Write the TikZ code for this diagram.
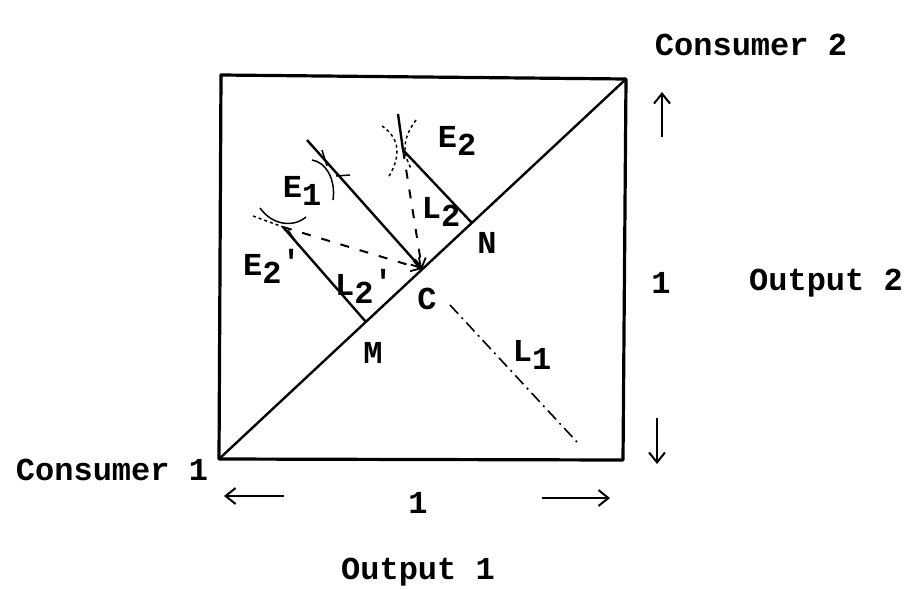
\documentclass[tikz,border=0pt]{standalone}
\usepackage{fontspec}
\setmainfont{Liberation Mono}
\usetikzlibrary{arrows.meta}
\newcommand{\sbs}[1]{\raisebox{-0.45ex}{#1}}
\newcommand{\prm}{\raisebox{0.2ex}{\textquotesingle}}
\begin{document}
\begin{tikzpicture}[x=1pt,y=-1pt,
  lbl/.style={font=\fontsize{32}{36}\selectfont\bfseries, inner sep=0pt},
  boxline/.style={line width=3.2pt, line join=round},
  solidline/.style={line width=2.4pt},
  dashline/.style={line width=2pt, dash pattern=on 9pt off 11pt},
  dashdotline/.style={line width=1.6pt, dash pattern=on 12pt off 5pt on 2pt off 5pt},
  curve/.style={line width=1.5pt},
  tip/.style={-{Straight Barb[length=9pt,width=11pt,line width=1.8pt]}},
  sidearrow/.style={line width=2pt, -{Straight Barb[length=10pt,width=16pt,line width=2pt]}}
]
\useasboundingbox (0,0) rectangle (904,589);
% square
\coordinate (BL) at (219,459);
\coordinate (BR) at (623,460);
\coordinate (TR) at (626,79);
\coordinate (TL) at (221,75);
\draw[boxline] (BL) -- (BR) -- (TR) -- (TL) -- cycle;
% points
\coordinate (C) at (422,269);
\coordinate (M) at (366,322);
\coordinate (N) at (472,223);
\coordinate (E1) at (330,170);
\coordinate (E1a) at (307,140);
\coordinate (E2) at (403,150);
\coordinate (E2a) at (398,114);
\coordinate (E2p) at (283,227);
\coordinate (L1s) at (450,305);
\coordinate (L1e) at (577,442);
% diagonal
\draw[solidline] (BL) -- (TR);
% lines
\draw[solidline, tip] (E1a) -- (C);
\draw[solidline] (E2) -- (N);
\draw[solidline] (E2p) -- (M);
\draw[solidline] (E2a) -- (E2);
\draw[dashline, tip] (E2) -- (C);
\draw[dashline, tip] (E2p) -- (C);
\draw[dashdotline] (L1s) -- (L1e);
% indifference curve marks
\draw[curve] (312,160) .. controls (326,162) and (336,180) .. (333,200);
\draw[curve] (322,150) -- (327,166);
\draw[curve] (336,176) -- (350,175);
\draw[curve, dashed] (382,126) .. controls (395,135) and (405,150) .. (388,178);
\draw[curve, dashed] (416,120) .. controls (405,135) and (400,150) .. (412,170);
\draw[curve] (260,208) .. controls (272,225) and (293,228) .. (306,217);
\draw[curve, dashed] (253,216) -- (283,227);
\draw[curve] (288,230) -- (298,245);
% labels
\node[lbl] (lE2) at (457,141) {E\sbs{2}};
\node[lbl] (lE1) at (302,191) {E\sbs{1}};
\node[lbl] (lL2) at (441,212) {L\sbs{2}};
\node[lbl] (lN) at (487,243) {N};
\node[lbl] (lE2p) at (272,266) {E\sbs{2}\prm};
\node[lbl] (lL2p) at (364,286) {L\sbs{2}\prm};
\node[lbl] (lC) at (427,299) {C};
\node[lbl] (lM) at (373,353) {M};
\node[lbl] (lL1) at (532,355) {L\sbs{1}};
\node[lbl] (cons2) at (751,45) {Consumer 2};
\node[lbl] (cons1) at (112,470) {Consumer 1};
\node[lbl] (one2) at (661,283) {1};
\node[lbl] (out2) at (826,283) {Output 2};
\node[lbl] (one1) at (418,503) {1};
\node[lbl] (out1) at (418,572) {Output 1};
% side arrows
\coordinate (ua1) at (662,137);
\coordinate (ua2) at (662,92);
\coordinate (da1) at (657,418);
\coordinate (da2) at (657,464);
\coordinate (la1) at (284,496);
\coordinate (la2) at (224,496);
\coordinate (ra1) at (542,498);
\coordinate (ra2) at (610,498);
\draw[sidearrow] (ua1) -- (ua2);
\draw[sidearrow] (da1) -- (da2);
\draw[sidearrow] (la1) -- (la2);
\draw[sidearrow] (ra1) -- (ra2);
\end{tikzpicture}
\end{document}
